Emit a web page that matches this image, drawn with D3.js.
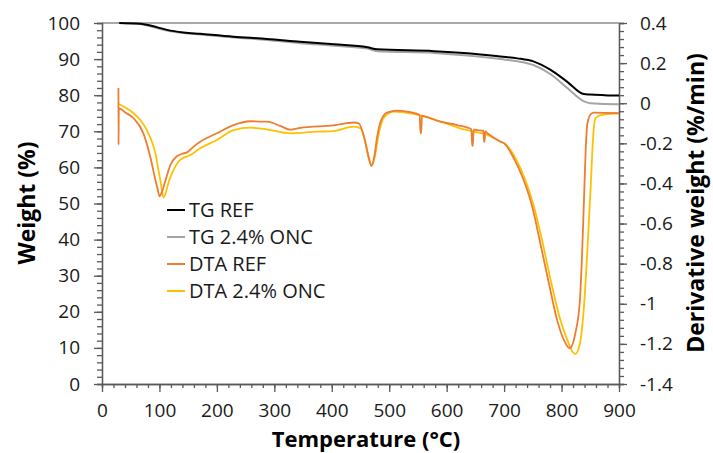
<!DOCTYPE html>
<html>
<head>
<meta charset="utf-8">
<script src="https://d3js.org/d3.v7.min.js"></script>
<style>
	body { margin: 0; background: #fff; }
	.tick text { font-family: "Open Sans", sans-serif; font-size: 19px; fill: #1a1a1a; }
	.axis path, .axis line { stroke: #595959; stroke-width: 1.3; }
	.title { font-family: "Open Sans", sans-serif; font-weight: bold; font-size: 22px; fill: #000; }
	.vtitle { font-size: 23px; }
	.legend { font-family: "Open Sans", sans-serif; font-size: 20px; fill: #1a1a1a; }
</style>
</head>
<body>
<script>
// TG curves (weight %, left axis)
var tgTemp = [30, 67, 84, 113, 142, 171, 229, 287, 345, 404, 462, 479, 578, 636, 694, 723, 752, 781, 810, 839, 850, 897, 900];
var tgRef  = [100, 99.8, 99.3, 98.1, 97.4, 97.0, 96.2, 95.6, 94.8, 94.1, 93.3, 92.7, 92.2, 91.6, 90.7, 90.2, 89.3, 87.0, 83.7, 80.3, 80.2, 79.9, 79.9];
var tgOnc  = [100, 99.7, 99.1, 97.9, 97.2, 96.8, 96.0, 95.3, 94.4, 93.7, 92.9, 92.2, 91.7, 91.0, 90.0, 89.4, 88.3, 85.8, 82.0, 78.3, 77.8, 77.5, 77.5];

// DTA curves (derivative weight %/min, right axis)
var dtaRefTemp = [28.6, 28.8, 29.3, 40, 55, 72, 84, 92, 97, 100, 104, 110, 119, 130, 140, 148, 160, 171, 200, 229, 258, 287, 311, 328, 345, 403, 438, 447, 456, 464, 469, 474, 479, 485, 496, 514, 537, 553, 554.5, 555.5, 557, 560, 589, 618, 643, 644.5, 645.5, 647, 653, 664, 665, 666, 667, 671, 694, 700, 717, 734, 749, 763, 778, 793, 804, 814, 824, 832, 836, 839, 842, 845, 851, 856, 900];
var dtaRef = [0.076, -0.208, -0.025, -0.045, -0.075, -0.15, -0.267, -0.37, -0.43, -0.464, -0.445, -0.39, -0.308, -0.265, -0.252, -0.245, -0.215, -0.192, -0.15, -0.109, -0.09, -0.092, -0.114, -0.132, -0.123, -0.11, -0.096, -0.1, -0.167, -0.267, -0.313, -0.267, -0.167, -0.092, -0.047, -0.037, -0.045, -0.059, -0.15, -0.15, -0.062, -0.064, -0.092, -0.109, -0.13, -0.213, -0.213, -0.132, -0.134, -0.137, -0.192, -0.192, -0.14, -0.15, -0.192, -0.2, -0.275, -0.383, -0.516, -0.698, -0.898, -1.089, -1.18, -1.222, -1.147, -0.981, -0.732, -0.483, -0.233, -0.1, -0.054, -0.047, -0.05];
var dtaOncTemp = [29, 40, 55, 67, 78, 86, 93, 98, 101.5, 104, 107, 110, 113, 117, 122, 136, 154, 171, 200, 229, 258, 287, 328, 374, 403, 438, 450, 459, 466, 470, 476, 482, 490, 508, 537, 578, 618, 647, 671, 694, 700, 720, 737, 752, 766, 781, 798, 810, 819, 824, 832, 839, 845, 851, 855, 859, 868, 900];
var dtaOnc = [-0.004, -0.02, -0.05, -0.085, -0.134, -0.185, -0.25, -0.33, -0.383, -0.43, -0.47, -0.455, -0.424, -0.385, -0.349, -0.283, -0.258, -0.225, -0.183, -0.134, -0.122, -0.13, -0.15, -0.142, -0.139, -0.117, -0.125, -0.2, -0.292, -0.308, -0.25, -0.15, -0.075, -0.042, -0.05, -0.08, -0.12, -0.142, -0.158, -0.192, -0.2, -0.275, -0.383, -0.516, -0.682, -0.881, -1.081, -1.18, -1.239, -1.25, -1.197, -1.014, -0.732, -0.399, -0.167, -0.075, -0.059, -0.05];

// ticks
var xTicks = [0, 100, 200, 300, 400, 500, 600, 700, 800, 900];
var leftTicks = [0, 10, 20, 30, 40, 50, 60, 70, 80, 90, 100];
var rightTicks = [0.4, 0.2, 0, -0.2, -0.4, -0.6, -0.8, -1, -1.2, -1.4];
var rightTickLabels = ["0.4", "0.2", "0", "-0.2", "-0.4", "-0.6", "-0.8", "-1", "-1.2", "-1.4"];

var seriesNames = ["TG REF", "TG 2.4% ONC", "DTA REF", "DTA 2.4% ONC"];
var seriesColors = ["#000000", "#a5a5a5", "#ed7d31", "#ffc000"];

var width = 713, height = 453;
var margin = { top: 23, right: 94, bottom: 69, left: 102 };

var svg = d3.select("body").append("svg")
	.attr("width", width)
	.attr("height", height);

var xScale = d3.scaleLinear().domain([0, 900]).range([margin.left, width - margin.right]);
var yLeft = d3.scaleLinear().domain([0, 100]).range([height - margin.bottom, margin.top]);
var yRight = d3.scaleLinear().domain([-1.4, 0.4]).range([height - margin.bottom, margin.top]);

// top border
svg.append("line")
	.attr("x1", xScale(0)).attr("x2", xScale(900))
	.attr("y1", yLeft(100)).attr("y2", yLeft(100))
	.attr("stroke", "#8c8c8c").attr("stroke-width", 1.3);

// minor ticks
svg.append("g").attr("class", "axis")
	.attr("transform", "translate(0," + (height - margin.bottom) + ")")
	.call(d3.axisBottom(xScale).tickValues(d3.range(0, 901, 20)).tickSize(4).tickFormat(""));
svg.append("g").attr("class", "axis")
	.attr("transform", "translate(" + margin.left + ",0)")
	.call(d3.axisLeft(yLeft).tickValues(d3.range(0, 101, 2)).tickSize(5).tickFormat(""));
svg.append("g").attr("class", "axis")
	.attr("transform", "translate(" + (width - margin.right) + ",0)")
	.call(d3.axisRight(yRight).tickValues(d3.range(0, 46).map(function(i) { return -1.4 + i * 0.04; })).tickSize(5).tickFormat(""));

// major axes
svg.append("g").attr("class", "axis")
	.attr("transform", "translate(0," + (height - margin.bottom) + ")")
	.call(d3.axisBottom(xScale).tickValues(xTicks).tickSize(8).tickPadding(12).tickSizeOuter(0));
svg.append("g").attr("class", "axis")
	.attr("transform", "translate(" + margin.left + ",0)")
	.call(d3.axisLeft(yLeft).tickValues(leftTicks).tickSize(8).tickPadding(14).tickSizeOuter(0));
svg.append("g").attr("class", "axis")
	.attr("transform", "translate(" + (width - margin.right) + ",0)")
	.call(d3.axisRight(yRight).tickValues(rightTicks).tickSize(8).tickPadding(13).tickSizeOuter(0)
		.tickFormat(function(d, i) { return rightTickLabels[i]; }));

// lines
var curve = d3.curveMonotoneX;
var lineLeft = d3.line().x(function(d) { return xScale(d[0]); }).y(function(d) { return yLeft(d[1]); }).curve(curve);
var lineRight = d3.line().x(function(d) { return xScale(d[0]); }).y(function(d) { return yRight(d[1]); }).curve(curve);

var series = [
	{ path: lineLeft(d3.zip(tgTemp, tgOnc)), color: seriesColors[1], w: 2 },
	{ path: lineLeft(d3.zip(tgTemp, tgRef)), color: seriesColors[0], w: 2 },
	{ path: lineRight(d3.zip(dtaOncTemp, dtaOnc)), color: seriesColors[3], w: 1.8 },
	{ path: lineRight(d3.zip(dtaRefTemp, dtaRef)), color: seriesColors[2], w: 1.8 }
];
svg.selectAll(".series").data(series).enter().append("path")
	.attr("class", "series")
	.attr("d", function(d) { return d.path; })
	.attr("fill", "none")
	.attr("stroke", function(d) { return d.color; })
	.attr("stroke-width", function(d) { return d.w; });

// legend
var legend = svg.selectAll(".leg").data(seriesNames).enter().append("g")
	.attr("transform", function(d, i) { return "translate(167," + (210 + i * 27) + ")"; });
legend.append("line")
	.attr("x1", 0).attr("x2", 18)
	.attr("stroke", function(d, i) { return seriesColors[i]; })
	.attr("stroke-width", 2);
legend.append("text")
	.attr("class", "legend")
	.attr("x", 22).attr("dy", "0.35em")
	.text(function(d) { return d; });

// titles
svg.append("text").attr("class", "title")
	.attr("text-anchor", "middle")
	.attr("transform", "translate(366,447)")
	.text("Temperature (°C)");
svg.append("text").attr("class", "title vtitle")
	.attr("text-anchor", "middle")
	.attr("transform", "translate(35,203) rotate(-90)")
	.text("Weight (%)");
svg.append("text").attr("class", "title vtitle")
	.attr("text-anchor", "middle")
	.attr("transform", "translate(704,203) rotate(-90)")
	.text("Derivative weight (%/min)");
</script>
</body>
</html>
